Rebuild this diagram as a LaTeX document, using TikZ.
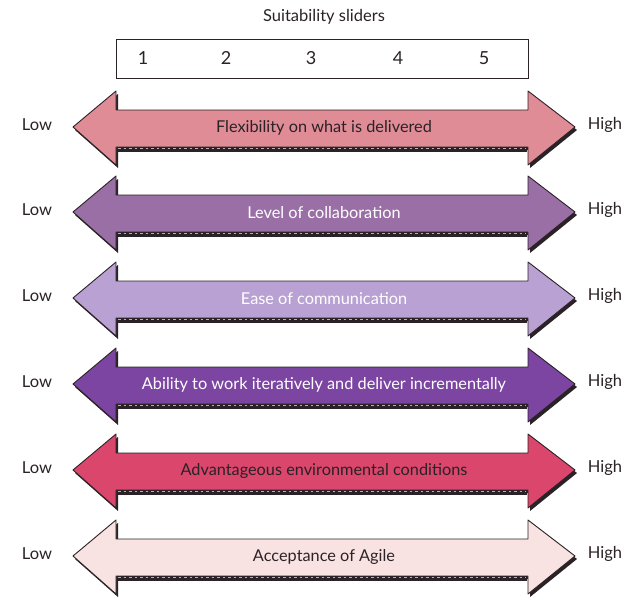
\documentclass[tikz,border=0pt]{standalone}
\usepackage{fontspec}
\setmainfont{Lato}
\definecolor{cA}{HTML}{E08C96}
\definecolor{cB}{HTML}{9A6FA6}
\definecolor{cC}{HTML}{B9A2D3}
\definecolor{cD}{HTML}{7B45A1}
\definecolor{cE}{HTML}{DA466C}
\definecolor{cF}{HTML}{F8E2E2}
\definecolor{ink}{HTML}{2A2226}
\tikzset{
  sidelbl/.style={font=\fontsize{16.5}{19}\selectfont, text=ink},
  titlelbl/.style={font=\fontsize{16.5}{19}\selectfont, text=ink},
  inlbl/.style={font=\fontsize{16.3}{19}\selectfont},
  numlbl/.style={font=\fontsize{18}{21}\selectfont, text=ink},
  arrowbody/.style={draw=ink, line width=0.9pt, line join=round},
  arrowshadow/.style={fill=ink},
  hatchband/.style={draw=ink, line width=5pt},
  hatchspeck/.style={draw=white!70!black, line width=0.8pt, dash pattern=on 2.5pt off 3pt},
}
\def\arrowpath{(73,0) -- (116,-36) -- (116,-17) -- (528,-17) -- (528,-36) -- (575,0) -- (528,38) -- (528,20) -- (116,20) -- (116,38) -- cycle}
\newcommand\slider[5]{%
  \begin{scope}[shift={(0,#1)}]
    \fill[arrowshadow, shift={(2,3)}] \arrowpath;
    \filldraw[arrowbody, fill=#3] \arrowpath;
    \draw[hatchband] (117,22) -- (527,22);
    \draw[hatchspeck] (118,21.5) -- (526,21.5);
    \node[inlbl, text=#4] (txt#2) at (324,1) {#5};
    \node[sidelbl] (low#2) at (37,-2) {Low};
    \node[sidelbl] (high#2) at (605,-2) {High};
  \end{scope}}
\begin{document}
\begin{tikzpicture}[x=1pt,y=-1pt]
  \useasboundingbox (0,0) rectangle (633,600);
  \node[titlelbl] (title) at (324,17) {Suitability sliders};
  \draw[draw=ink, line width=0.9pt] (116,39) rectangle (528,78);
  \node[numlbl] (n1) at (143,58) {1};
  \node[numlbl] (n2) at (226,58) {2};
  \node[numlbl] (n3) at (311,58) {3};
  \node[numlbl] (n4) at (398,58) {4};
  \node[numlbl] (n5) at (484,58) {5};
  \slider{127}{A}{cA}{ink}{Flexibility on what is delivered}
  \slider{212}{B}{cB}{white}{Level of collaboration}
  \slider{298}{C}{cC}{white}{Ease of communication}
  \slider{384}{D}{cD}{white}{Ability to work iteratively and deliver incrementally}
  \slider{470}{E}{cE}{ink}{Advantageous environmental conditions}
  \slider{556}{F}{cF}{ink}{Acceptance of Agile}
\end{tikzpicture}
\end{document}
